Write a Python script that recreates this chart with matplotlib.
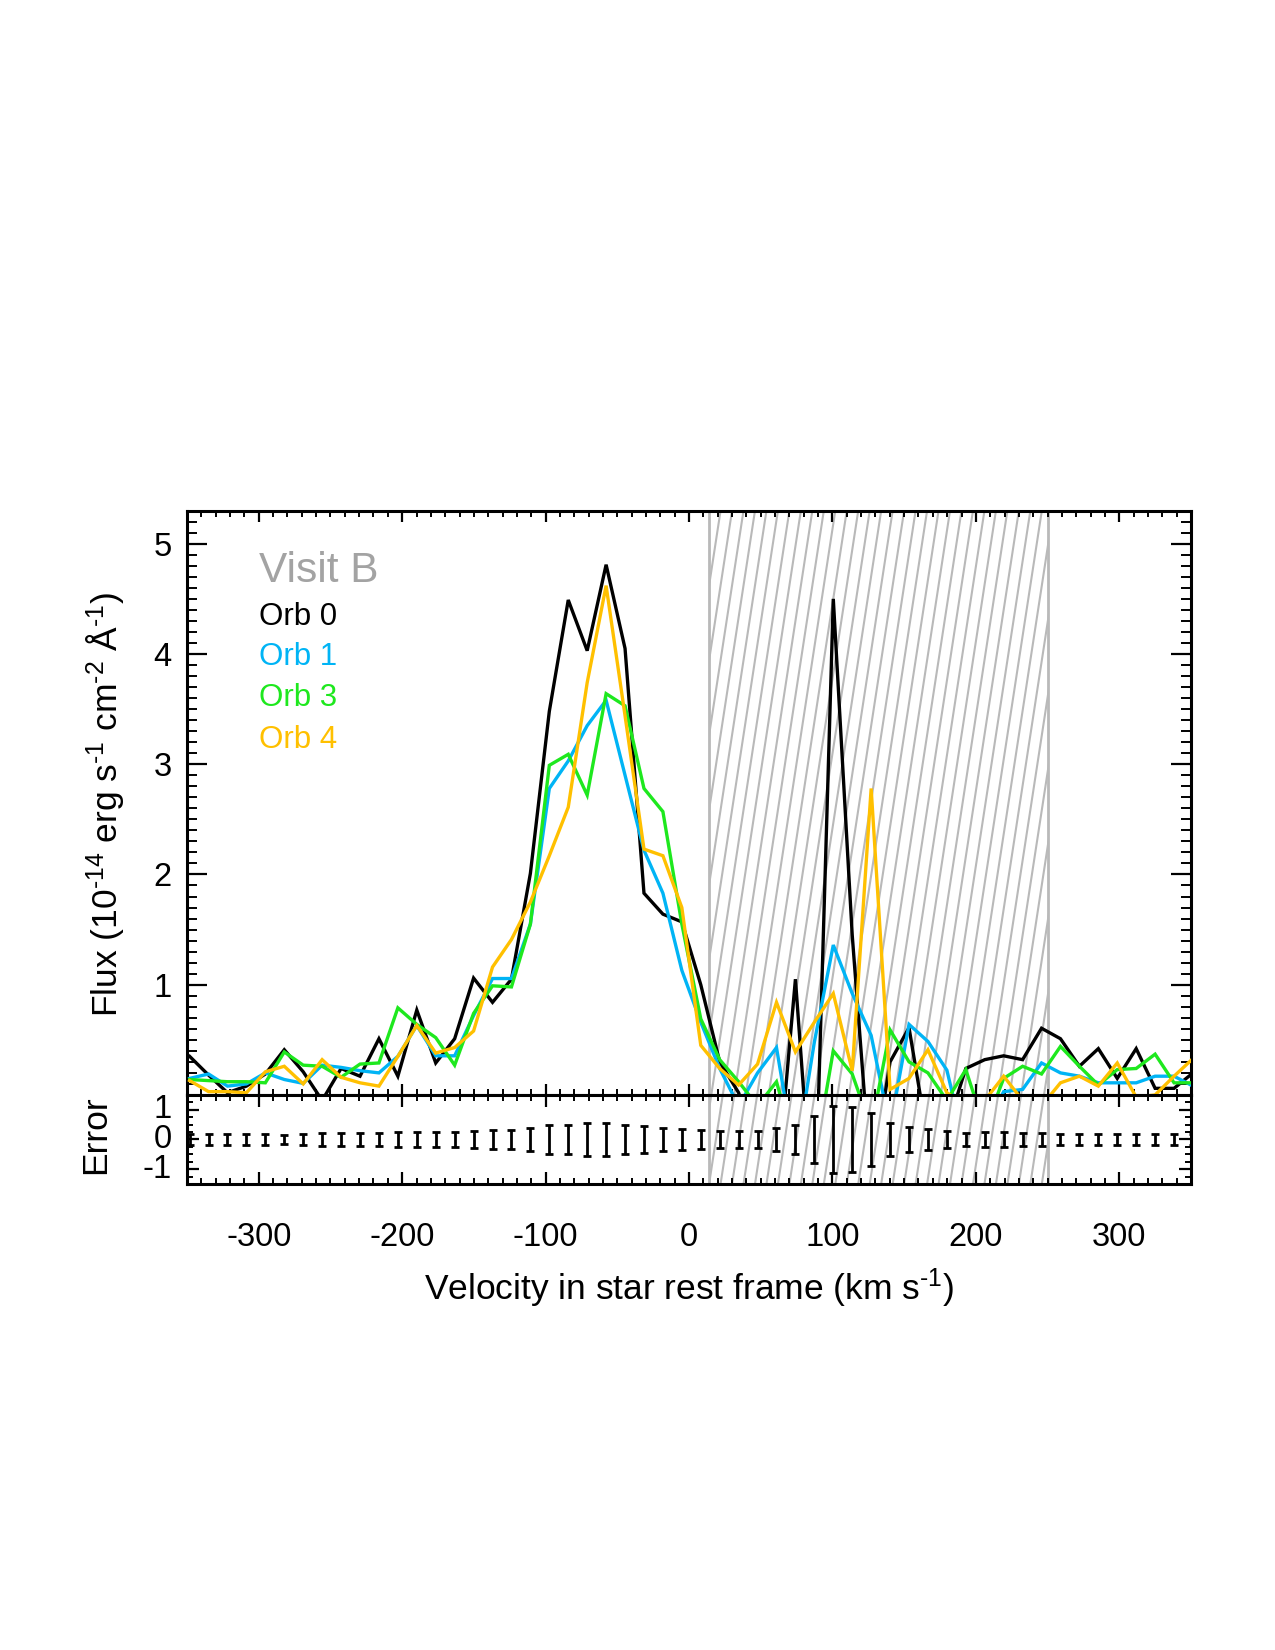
import numpy as np
import matplotlib
matplotlib.use('Agg')
import matplotlib.pyplot as plt
import matplotlib.transforms as mtransforms
from matplotlib.collections import LineCollection
from matplotlib.patches import Rectangle
from matplotlib.ticker import MultipleLocator, FixedLocator

plt.rcParams['font.family'] = ['Liberation Sans', 'DejaVu Sans']
plt.rcParams['mathtext.fontset'] = 'custom'
plt.rcParams['mathtext.rm'] = 'Liberation Sans'
plt.rcParams['mathtext.it'] = 'Liberation Sans:italic'
plt.rcParams['mathtext.bf'] = 'Liberation Sans:bold'
plt.rcParams['axes.unicode_minus'] = False

# ---------------- data ----------------
velocity = [-348.2, -335.0, -321.8, -308.6, -295.4, -282.2, -269.0, -255.8, -242.6, -229.4,
            -216.2, -203.0, -189.8, -176.6, -163.4, -150.2, -137.0, -123.8, -110.6, -97.4,
            -84.2, -71.0, -57.8, -44.6, -31.4, -18.2, -5.0, 8.2, 21.4, 34.6,
            47.8, 61.0, 74.2, 87.4, 100.6, 113.8, 127.0, 140.2, 153.4, 166.6,
            179.8, 193.0, 206.2, 219.4, 232.6, 245.8, 259.0, 272.2, 285.4, 298.6,
            311.8, 325.0, 338.2, 351.4]

flux_orb0 = [0.35, 0.18, 0.02, 0.08, 0.19, 0.41, 0.21, -0.05, 0.24, 0.17,
             0.51, 0.17, 0.77, 0.29, 0.51, 1.06, 0.84, 1.05, 2.01, 3.48,
             4.49, 4.03, 4.81, 4.05, 1.83, 1.64, 1.57, 1.00, 0.30, 0.02,
             -0.50, -0.88, 1.05, -1.30, 4.50, 1.45, -0.80, 0.30, 0.61, -0.42,
             -0.30, 0.24, 0.32, 0.355, 0.32, 0.605, 0.51, 0.26, 0.42, 0.15,
             0.42, 0.06, 0.06, 0.20]

flux_orb1 = [0.15, 0.19, 0.08, 0.10, 0.20, 0.14, 0.105, 0.27, 0.25, 0.22,
             0.20, 0.35, 0.63, 0.355, 0.355, 0.72, 1.056, 1.056, 1.55, 2.78,
             3.03, 3.35, 3.58, 2.90, 2.22, 1.83, 1.13, 0.66, 0.24, -0.10,
             0.20, 0.43, -0.60, 0.48, 1.36, 0.92, 0.54, -0.30, 0.64, 0.485,
             0.225, -0.50, -0.30, 0.03, 0.05, 0.29, 0.20, 0.17, 0.11, 0.11,
             0.11, 0.17, 0.17, 0.08]

flux_orb3 = [0.14, 0.13, 0.12, 0.12, 0.11, 0.39, 0.27, 0.26, 0.16, 0.28,
             0.29, 0.79, 0.64, 0.52, 0.27, 0.74, 0.99, 0.98, 1.55, 2.99,
             3.09, 2.72, 3.64, 3.53, 2.78, 2.57, 1.55, 0.69, 0.32, 0.12,
             -0.10, 0.12, -0.50, -0.60, 0.40, 0.19, -0.30, 0.59, 0.30, 0.20,
             -0.05, 0.23, -0.30, 0.15, 0.26, 0.19, 0.44, 0.26, 0.09, 0.23,
             0.24, 0.37, 0.11, 0.11]

flux_orb4 = [0.13, 0.03, 0.03, 0.02, 0.21, 0.26, 0.10, 0.32, 0.16, 0.11,
             0.08, 0.35, 0.63, 0.38, 0.43, 0.58, 1.16, 1.41, 1.75, 2.17,
             2.61, 3.74, 4.62, 3.44, 2.23, 2.17, 1.70, 0.45, 0.24, 0.09,
             0.28, 0.84, 0.39, 0.66, 0.92, 0.22, 2.78, 0.05, 0.15, 0.41,
             0.02, -0.10, -0.05, 0.17, -0.05, -0.10, 0.11, 0.17, 0.08, 0.29,
             -0.02, 0.00, 0.17, 0.33]

flux_error = [0.19, 0.19, 0.19, 0.19, 0.19, 0.14, 0.17, 0.22, 0.22, 0.22,
              0.22, 0.24, 0.24, 0.24, 0.24, 0.29, 0.33, 0.33, 0.40, 0.48,
              0.50, 0.54, 0.55, 0.50, 0.44, 0.38, 0.36, 0.33, 0.27, 0.27,
              0.29, 0.38, 0.50, 0.80, 1.13, 1.08, 0.89, 0.56, 0.43, 0.35,
              0.27, 0.22, 0.24, 0.24, 0.23, 0.22, 0.17, 0.17, 0.17, 0.17,
              0.17, 0.17, 0.17, 0.17]

series_labels = ['Orb 0', 'Orb 1', 'Orb 3', 'Orb 4']
series_colors = ['#000000', '#00b4f5', '#1ee81e', '#ffc000']
masked_range = [14, 250]
x_ticks = [-300, -200, -100, 0, 100, 200, 300]
flux_ticks = [1, 2, 3, 4, 5]
error_ticks = [-1, 0, 1]
title_text = 'Visit B'

# ---------------- figure ----------------
fig = plt.figure(figsize=(12.75, 16.5), dpi=100)
L, W = 0.1467, 0.7874
main_b, main_h = 0.3364, 0.3541
err_b, err_h = 0.2824, 0.0540
ax = fig.add_axes([L, main_b, W, main_h])
axe = fig.add_axes([L, err_b, W, err_h], sharex=ax)

lw_axis = 2.2
for a in (ax, axe):
    for s in a.spines.values():
        s.set_linewidth(lw_axis)

series = [flux_orb0, flux_orb1, flux_orb3, flux_orb4]
for y, c in zip(series, series_colors):
    ax.plot(velocity, y, color=c, lw=2.4, zorder=3, solid_joinstyle='miter')

ax.set_xlim(-350, 350)
ax.set_ylim(0, 5.3)
axe.set_ylim(-1.5, 1.5)

# hatched masked region spanning both panels
total_h = (main_b + main_h) - err_b
Y1 = err_h / total_h
shift = 72.0   # km/s horizontal drift over total height
dx = 8.0
starts = np.arange(masked_range[0] - shift - dx, masked_range[1] + dx, dx)
for a, ylo, yhi in ((ax, Y1, 1.0), (axe, 0.0, Y1)):
    trans = mtransforms.blended_transform_factory(a.transData, a.transAxes)
    segs = [[(xb + shift * ylo, 0), (xb + shift * yhi, 1)] for xb in starts]
    lc = LineCollection(segs, transform=trans, colors='#b9b9b9', linewidths=1.5, zorder=1)
    a.add_collection(lc)
    rect = Rectangle((masked_range[0], 0), masked_range[1] - masked_range[0], 1,
                     transform=trans, facecolor='none', edgecolor='none')
    lc.set_clip_path(rect)
    for xv in masked_range:
        a.axvline(xv, color='#b9b9b9', lw=2.0, zorder=1)

# error panel
err_center = np.zeros(len(velocity))
axe.errorbar(velocity, err_center, yerr=flux_error, fmt='none', ecolor='black',
             elinewidth=2.0, capsize=3.0, capthick=2.0, zorder=3)

# ticks
ax.xaxis.set_major_locator(FixedLocator(x_ticks))
ax.xaxis.set_minor_locator(MultipleLocator(10))
ax.yaxis.set_major_locator(FixedLocator(flux_ticks))
ax.yaxis.set_minor_locator(MultipleLocator(0.1))
axe.yaxis.set_major_locator(FixedLocator(error_ticks))
axe.yaxis.set_minor_locator(MultipleLocator(0.25))

ax.tick_params(axis='x', which='major', direction='in', length=8, width=1.6,
               top=True, bottom=True, labelbottom=False)
ax.tick_params(axis='x', which='minor', direction='in', length=4, width=1.4,
               top=True, bottom=True)
ax.tick_params(axis='y', which='major', direction='in', length=14.4, width=1.6,
               left=True, right=True, labelsize=23.5, pad=11)
ax.tick_params(axis='y', which='minor', direction='in', length=7.2, width=1.4,
               left=True, right=True)

axe.tick_params(axis='x', which='major', direction='in', length=8.6, width=1.6,
                top=True, bottom=True, labelsize=23.5, pad=27)
axe.tick_params(axis='x', which='minor', direction='in', length=4.3, width=1.4,
                top=True, bottom=True)
axe.tick_params(axis='y', which='major', direction='in', length=8.6, width=1.6,
                left=True, right=True, labelsize=23.5, pad=11)
axe.tick_params(axis='y', which='minor', direction='in', length=4.3, width=1.4,
                left=True, right=True)
for lab in axe.get_yticklabels():
    lab.set_va('center')

# legend texts
ax.text(-300, 4.75, title_text, color='#a3a3a3', fontsize=30.5, va='center', ha='left')
orb_y = [4.34, 3.97, 3.60, 3.22]
for lab, c, yy in zip(series_labels, series_colors, orb_y):
    ax.text(-300, yy, lab, color=c, fontsize=22.5, va='center', ha='left')

# axis labels
fig.text((L + W / 2), 1 - 1300 / 1650, r'Velocity in star rest frame (km s$^{\text{-1}}$)',
         fontsize=25.5, ha='center', va='baseline')
fig.text(118 / 1275, 1 - 804 / 1650,
         r'Flux (10$^{\text{-14}}$ erg s$^{\text{-1}}$ cm$^{\text{-2}}$ Å$^{\text{-1}}$)',
         fontsize=25.5, rotation=90, rotation_mode='anchor', ha='center', va='baseline')
fig.text(105 / 1275, 1 - 1135 / 1650, 'Error', fontsize=25.5, rotation=90,
         rotation_mode='anchor', ha='center', va='baseline')

fig.savefig('out.png', dpi=100)
